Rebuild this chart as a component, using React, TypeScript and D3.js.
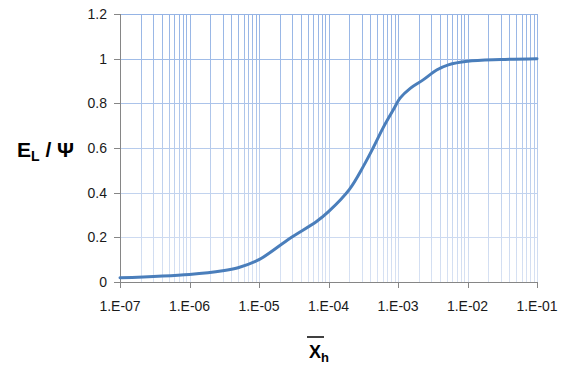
import * as d3 from "d3"

// curve
const X_VALUES = [1e-7, 1e-6, 3e-6, 5e-6, 1e-5, 2.8e-5, 6.8e-5, 1e-4, 2e-4, 3.2e-4, 4.4e-4, 6.1e-4, 8.6e-4, 1.07e-3, 1.5e-3, 2.3e-3, 3.6e-3, 5.3e-3, 1e-2, 3e-2, 1e-1]
const Y_VALUES = [0.019, 0.034, 0.05, 0.064, 0.10, 0.196, 0.272, 0.315, 0.415, 0.52, 0.601, 0.69, 0.772, 0.823, 0.867, 0.905, 0.949, 0.972, 0.988, 0.996, 1.0]

const X_TICKS = [1e-7, 1e-6, 1e-5, 1e-4, 1e-3, 1e-2, 1e-1]
const X_TICK_LABELS = ["1.E-07", "1.E-06", "1.E-05", "1.E-04", "1.E-03", "1.E-02", "1.E-01"]
const Y_TICKS = [0, 0.2, 0.4, 0.6, 0.8, 1, 1.2]
const Y_TICK_LABELS = ["0", "0.2", "0.4", "0.6", "0.8", "1", "1.2"]

const width = 572
const height = 374
const marginLeft = 120
const marginRight = 35
const marginTop = 14
const marginBottom = 92
const FONT = "'Liberation Sans', Arial, sans-serif"

export default function App() {
    const x = d3.scaleLog()
        .domain([1e-7, 1e-1])
        .range([marginLeft, width - marginRight])
    const y = d3.scaleLinear()
        .domain([0, 1.2])
        .range([height - marginBottom, marginTop])

    // minor grid: 1..9 x each decade
    const gridX: number[] = []
    for (let k = -7; k < -1; k++) {
        for (let m = 1; m <= 9; m++) gridX.push(m * Math.pow(10, k))
    }
    gridX.push(1e-1)

    const data = X_VALUES.map((v, i) => [v, Y_VALUES[i]] as [number, number])
    const line = d3.line<[number, number]>()
        .x(d => x(d[0]))
        .y(d => y(d[1]))
        .curve(d3.curveCatmullRom.alpha(0.5))

    const x0 = x(1e-7), x1 = x(1e-1)
    const yb = y(0), yt = y(1.2)

    return (
        <svg width={width} height={height} viewBox={`0 0 ${width} ${height}`}
            style={{ position: "absolute", left: 0, top: 0, background: "#fff" }}>
            <defs>
                <linearGradient id="gridGrad" gradientUnits="userSpaceOnUse" x1="0" y1={yt} x2="0" y2={yb}>
                    <stop offset="0" stopColor="#95b4e5" />
                    <stop offset="1" stopColor="#d8e2f3" />
                </linearGradient>
            </defs>
            <rect width={width} height={height} fill="#fff" />

            {/* grid */}
            <g stroke="url(#gridGrad)" strokeWidth={1} shapeRendering="crispEdges">
                {gridX.map((v, i) => (
                    <line key={'gx' + i} x1={Math.round(x(v)) + 0.5} x2={Math.round(x(v)) + 0.5} y1={yt} y2={yb} />
                ))}
                {Y_TICKS.filter(v => v > 0).map((v, i) => (
                    <line key={'gy' + i} x1={x0} x2={x1} y1={Math.round(y(v)) + 0.5} y2={Math.round(y(v)) + 0.5} />
                ))}
            </g>

            {/* axes */}
            <g stroke="#868686" strokeWidth={1} shapeRendering="crispEdges">
                <line x1={x0 + 0.5} x2={x0 + 0.5} y1={yt} y2={yb} />
                <line x1={x0} x2={x1} y1={yb + 0.5} y2={yb + 0.5} />
                {Y_TICKS.map((v, i) => (
                    <line key={'ty' + i} x1={x0 - 6} x2={x0} y1={Math.round(y(v)) + 0.5} y2={Math.round(y(v)) + 0.5} />
                ))}
                {X_TICKS.map((v, i) => (
                    <line key={'tx' + i} x1={Math.round(x(v)) + 0.5} x2={Math.round(x(v)) + 0.5} y1={yb} y2={yb + 6} />
                ))}
            </g>

            {/* tick labels */}
            <g fontFamily={FONT} fontSize={14} fill="#1a1a1a">
                {Y_TICKS.map((v, i) => (
                    <text key={'ly' + i} x={x0 - 13} y={y(v)} dy="0.35em" textAnchor="end">{Y_TICK_LABELS[i]}</text>
                ))}
                {X_TICKS.map((v, i) => (
                    <text key={'lx' + i} x={x(v)} y={yb + 29} textAnchor="middle">{X_TICK_LABELS[i]}</text>
                ))}
            </g>

            {/* curve */}
            <path d={line(data) ?? ""} fill="none" stroke="#4a7ebb" strokeWidth={3} strokeLinejoin="round" strokeLinecap="round" />

            {/* y title: E_L / Psi */}
            <text fontFamily={FONT} fontWeight="bold" fill="#000" x={17} y={157}>
                <tspan fontSize={21}>E</tspan>
                <tspan fontSize={14} dy={4}>L</tspan>
                <tspan fontSize={21} dy={-4}> / Ψ</tspan>
            </text>

            {/* x title: X bar sub h */}
            <line x1={307} x2={324} y1={337} y2={337} stroke="#000" strokeWidth={1.5} />
            <text fontFamily={FONT} fontWeight="bold" fill="#000" x={309} y={358}>
                <tspan fontSize={18}>X</tspan>
                <tspan fontSize={13} dy={4}>h</tspan>
            </text>
        </svg>
    )
}
